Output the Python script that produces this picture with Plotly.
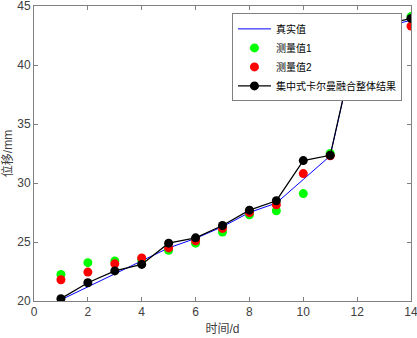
import plotly.graph_objects as go

days = [1, 2, 3, 4, 5, 6, 7, 8, 9, 10, 11, 12, 13, 14]
true_vals = [20.1, 21.2, 22.3, 23.4, 24.5, 25.3, 26.3, 27.5, 28.3, 30.3, 32.3, 42.4, 43.2, 43.8]
meas1 = [22.25, 23.25, 23.4, 23.5, 24.3, 24.9, 25.85, 27.3, 27.65, 29.1, 32.5, 42.0, 43.6, 44.1]
meas2 = [21.8, 22.45, 23.15, 23.65, 24.5, 25.1, 26.15, 27.5, 28.15, 30.8, 32.3, 42.6, 43.7, 43.3]
fused = [20.2, 21.55, 22.55, 23.1, 24.9, 25.35, 26.4, 27.7, 28.5, 31.9, 32.35, 42.5, 43.4, 43.95]

names = ["真实值", "测量值1", "测量值2", "集中式卡尔曼融合整体结果"]
xticks = [0, 2, 4, 6, 8, 10, 12, 14]
yticks = [20, 25, 30, 35, 40, 45]

FONT = "Liberation Sans, Noto Sans CJK SC"

fig = go.Figure()
fig.add_trace(go.Scatter(x=days, y=true_vals, mode="lines", name=names[0],
                         line=dict(color="#0000ff", width=1)))
fig.add_trace(go.Scatter(x=days, y=meas1, mode="markers", name=names[1],
                         marker=dict(color="#00ff00", size=9, line=dict(width=0))))
fig.add_trace(go.Scatter(x=days, y=meas2, mode="markers", name=names[2],
                         marker=dict(color="#ff0000", size=9, line=dict(width=0))))
fig.add_trace(go.Scatter(x=days, y=fused, mode="lines+markers", name=names[3],
                         line=dict(color="#000000", width=1.2),
                         marker=dict(color="#000000", size=9, line=dict(width=0))))

axis_common = dict(showline=True, linecolor="#808080", linewidth=1, mirror="ticks",
                   ticks="inside", ticklen=4, tickcolor="#808080", showgrid=False,
                   zeroline=False, automargin=False, ticklabeloverflow="allow",
                   tickfont=dict(family=FONT, size=12, color="#404040"))

fig.update_layout(
    width=417, height=338,
    margin=dict(l=34, r=6, t=6, b=37),
    plot_bgcolor="white", paper_bgcolor="white",
    showlegend=True,
    legend=dict(x=0.976, y=0.975, xanchor="right", yanchor="top",
                bgcolor="white", bordercolor="#808080", borderwidth=1,
                font=dict(family=FONT, size=10, color="#000000"),
                tracegroupgap=0, itemwidth=33),
    xaxis=dict(range=[0, 14], tickvals=xticks,
               title=dict(text="时间/d", font=dict(family=FONT, size=12, color="#404040"), standoff=6),
               **axis_common),
    yaxis=dict(range=[20, 45], tickvals=yticks,
               title=dict(text="位移/mm", font=dict(family=FONT, size=12, color="#404040"), standoff=6),
               **axis_common),
)

fig.write_html("out.html", config={"displayModeBar": False},
               post_script="document.body.style.margin='0';")
